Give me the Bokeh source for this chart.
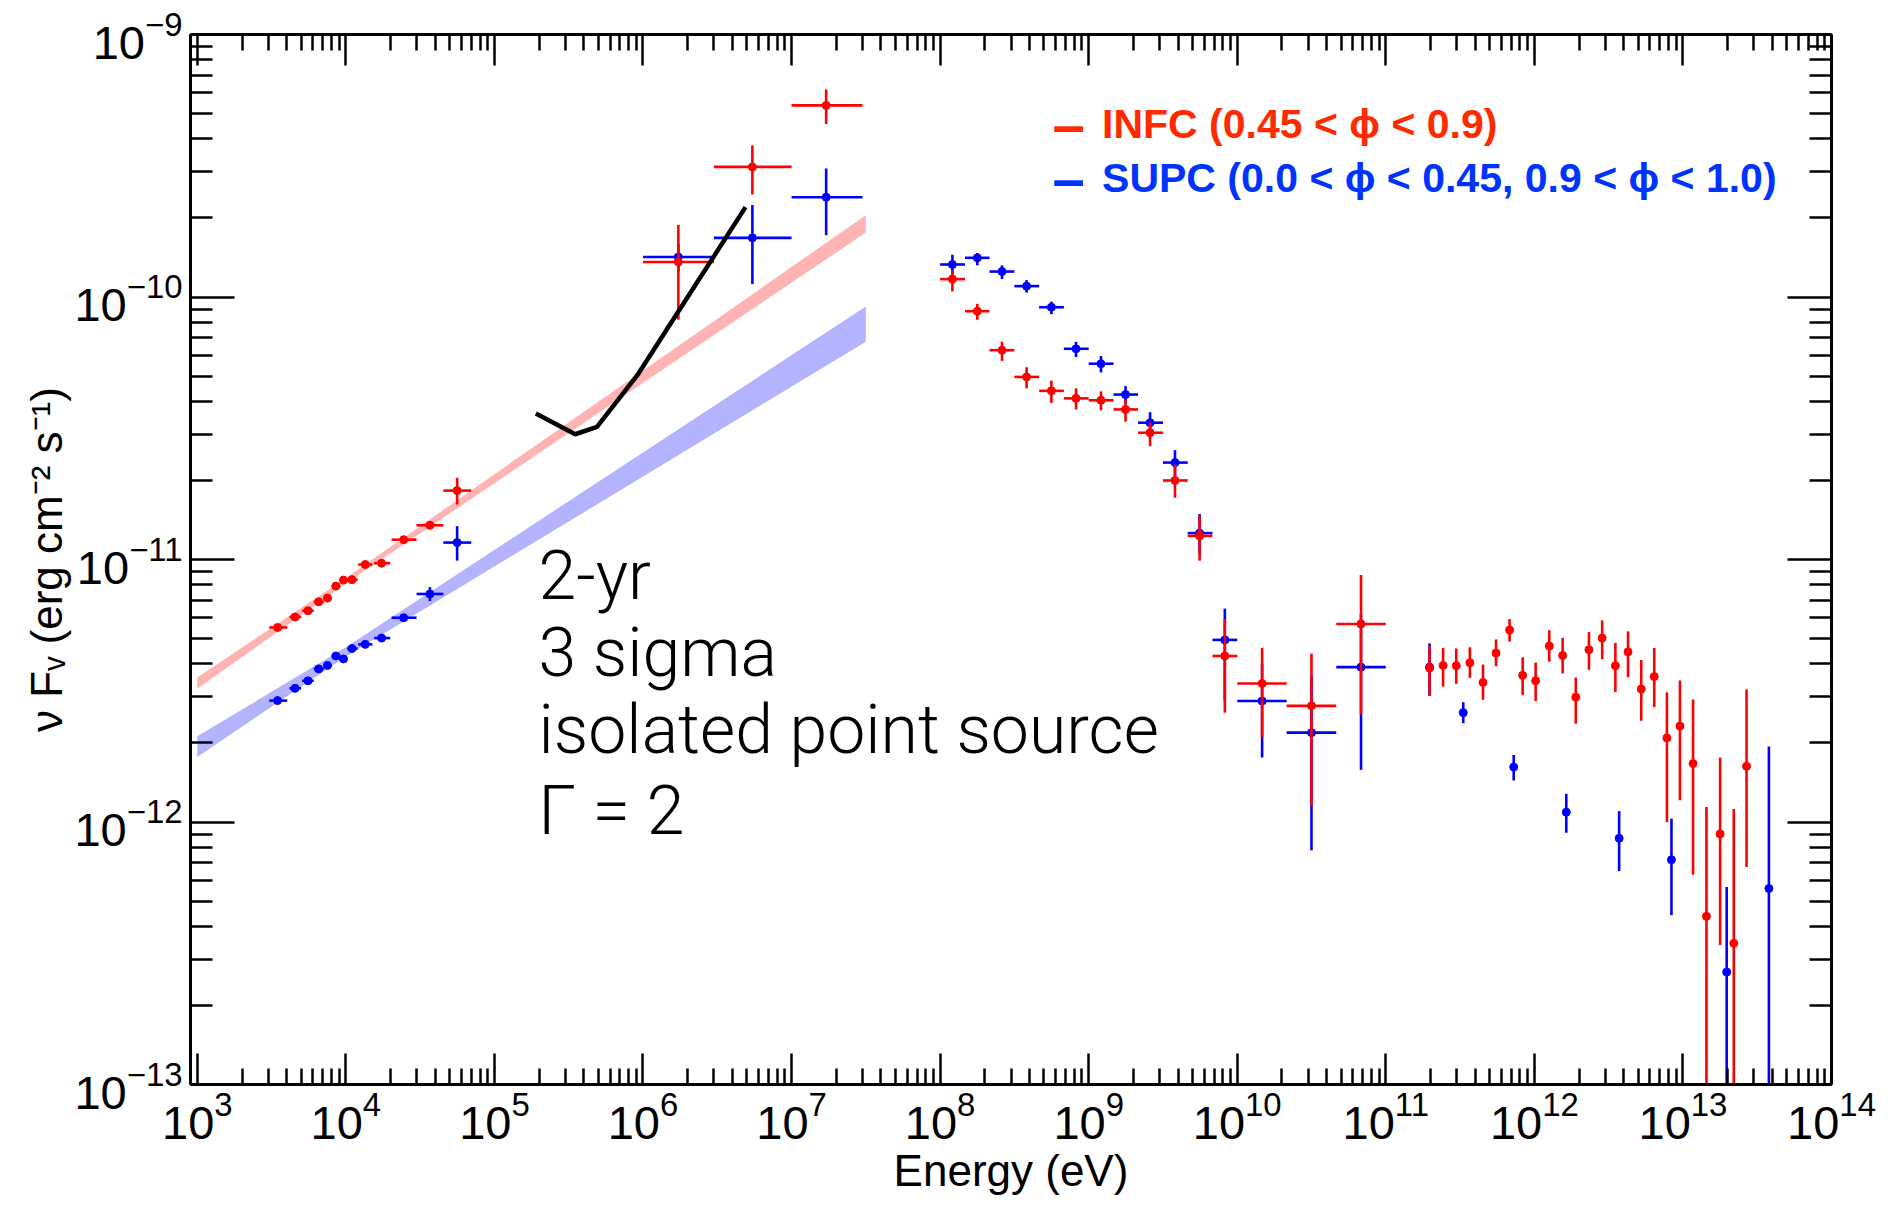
import numpy as np
from bokeh.plotting import figure
from bokeh.models import (ColumnDataSource, LogAxis, FixedTicker, LogTickFormatter, Range1d, Label,
                          CustomJSTickFormatter)
from bokeh.embed import file_html
from bokeh.resources import INLINE
from bokeh.core.properties import value

# ---------------- axes ----------------
X_RANGE = (900.0, 1e14)
Y_RANGE = (1e-13, 1e-9)
x_tick_values = [1e3, 1e4, 1e5, 1e6, 1e7, 1e8, 1e9, 1e10, 1e11, 1e12, 1e13, 1e14]
y_tick_values = [1e-13, 1e-12, 1e-11, 1e-10, 1e-9]
x_label = "Energy (eV)"
y_label = "ν Fᵥ (erg cm⁻² s⁻¹)"

# ---------------- X-ray points ----------------
xray_E = [3.47e3, 4.55e3, 5.56e3, 6.56e3, 7.52e3, 8.57e3, 9.64e3, 1.10e4, 1.35e4, 1.74e4, 2.45e4, 3.68e4, 5.61e4]
xray_E_lo = [3.05e3, 4.17e3, 5.08e3, 6.08e3, 7.10e3, 8.00e3, 9.20e3, 1.02e4, 1.21e4, 1.55e4, 2.03e4, 2.99e4, 4.53e4]
xray_E_hi = [4.03e3, 5.00e3, 6.08e3, 7.10e3, 8.00e3, 9.20e3, 1.02e4, 1.20e4, 1.51e4, 1.99e4, 2.99e4, 4.53e4, 6.98e4]
xray_red_F = [5.51e-12, 6.04e-12, 6.38e-12, 6.90e-12, 7.13e-12, 7.92e-12, 8.35e-12, 8.38e-12, 9.57e-12, 9.68e-12, 1.19e-11, 1.35e-11, 1.83e-11]
xray_red_lo = [5.38e-12, 5.90e-12, 6.24e-12, 6.74e-12, 6.97e-12, 7.74e-12, 8.15e-12, 8.18e-12, 9.33e-12, 9.44e-12, 1.16e-11, 1.31e-11, 1.62e-11]
xray_red_hi = [5.64e-12, 6.18e-12, 6.52e-12, 7.06e-12, 7.29e-12, 8.10e-12, 8.55e-12, 8.58e-12, 9.81e-12, 9.92e-12, 1.22e-11, 1.40e-11, 2.05e-11]
xray_blue_F = [2.90e-12, 3.23e-12, 3.45e-12, 3.83e-12, 3.95e-12, 4.29e-12, 4.18e-12, 4.58e-12, 4.75e-12, 5.02e-12, 6.00e-12, 7.39e-12, 1.16e-11]
xray_blue_lo = [2.83e-12, 3.15e-12, 3.37e-12, 3.74e-12, 3.86e-12, 4.19e-12, 4.08e-12, 4.47e-12, 4.63e-12, 4.89e-12, 5.82e-12, 6.95e-12, 9.90e-12]
xray_blue_hi = [2.97e-12, 3.31e-12, 3.53e-12, 3.92e-12, 4.04e-12, 4.39e-12, 4.28e-12, 4.69e-12, 4.87e-12, 5.15e-12, 6.18e-12, 7.85e-12, 1.34e-11]

# ---------------- MeV points ----------------
mev_E = [1.73e6, 5.45e6, 1.71e7]
mev_E_lo = [1.0e6, 3.0e6, 1.0e7]
mev_E_hi = [3.0e6, 1.0e7, 3.0e7]
mev_red_F = [1.36e-10, 3.13e-10, 5.37e-10]
mev_red_lo = [8.2e-11, 2.46e-10, 4.56e-10]
mev_red_hi = [1.88e-10, 3.78e-10, 6.17e-10]
mev_blue_F = [1.42e-10, 1.68e-10, 2.40e-10]
mev_blue_lo = [1.25e-10, 1.12e-10, 1.72e-10]
mev_blue_hi = [1.60e-10, 2.24e-10, 3.09e-10]

# ---------------- GeV points ----------------
gev_E = [1.21e8, 1.78e8, 2.61e8, 3.82e8, 5.61e8, 8.22e8, 1.21e9, 1.77e9, 2.59e9, 3.81e9, 5.58e9,
         8.25e9, 1.47e10, 3.16e10, 6.81e10]
gev_E_lo = [1.0e8, 1.47e8, 2.15e8, 3.16e8, 4.64e8, 6.81e8, 1.0e9, 1.47e9, 2.15e9, 3.16e9, 4.64e9,
            6.81e9, 1.0e10, 2.15e10, 4.64e10]
gev_E_hi = [1.47e8, 2.15e8, 3.16e8, 4.64e8, 6.81e8, 1.0e9, 1.47e9, 2.15e9, 3.16e9, 4.64e9, 6.81e9,
            1.0e10, 2.15e10, 4.64e10, 1.0e11]
gev_red_F = [1.17e-10, 8.83e-11, 6.27e-11, 4.96e-11, 4.39e-11, 4.11e-11, 4.04e-11, 3.73e-11, 3.04e-11, 2.00e-11, 1.23e-11,
             4.29e-12, 3.37e-12, 2.77e-12, 5.68e-12]
gev_red_lo = [1.05e-10, 8.19e-11, 5.71e-11, 4.49e-11, 3.95e-11, 3.73e-11, 3.70e-11, 3.35e-11, 2.70e-11, 1.72e-11, 9.9e-12,
              2.61e-12, 2.11e-12, 1.15e-12, 2.57e-12]
gev_red_hi = [1.26e-10, 9.42e-11, 6.76e-11, 5.40e-11, 4.80e-11, 4.49e-11, 4.37e-11, 4.06e-11, 3.33e-11, 2.30e-11, 1.47e-11,
              5.93e-12, 4.61e-12, 4.38e-12, 8.73e-12]
gev_blue_F = [1.33e-10, 1.41e-10, 1.25e-10, 1.10e-10, 9.14e-11, 6.35e-11, 5.57e-11, 4.25e-11, 3.32e-11, 2.34e-11, 1.26e-11,
              4.94e-12, 2.89e-12, 2.19e-12, 3.89e-12]
gev_blue_lo = [1.22e-10, 1.32e-10, 1.17e-10, 1.04e-10, 8.6e-11, 5.9e-11, 5.16e-11, 3.93e-11, 3.06e-11, 2.08e-11, 1.05e-11,
               2.9e-12, 1.76e-12, 7.8e-13, 1.58e-12]
gev_blue_hi = [1.45e-10, 1.47e-10, 1.32e-10, 1.16e-10, 9.6e-11, 6.75e-11, 5.96e-11, 4.58e-11, 3.64e-11, 2.61e-11, 1.49e-11,
               6.5e-12, 4.0e-12, 3.6e-12, 6.2e-12]

# ---------------- TeV points ----------------
tev_red_E = [1.97e11, 2.43e11, 2.98e11, 3.68e11, 4.51e11, 5.52e11, 6.81e11, 8.34e11, 1.02e12, 1.26e12, 1.55e12, 1.90e12,
             2.33e12, 2.86e12, 3.51e12, 4.27e12, 5.24e12, 6.41e12, 7.80e12, 9.55e12, 1.17e13, 1.44e13, 1.78e13, 2.20e13, 2.68e13]
tev_red_F = [3.86e-12, 3.95e-12, 3.94e-12, 4.04e-12, 3.40e-12, 4.40e-12, 5.39e-12, 3.62e-12, 3.45e-12, 4.68e-12, 4.31e-12, 2.99e-12,
             4.53e-12, 5.02e-12, 3.94e-12, 4.45e-12, 3.21e-12, 3.58e-12, 2.09e-12, 2.32e-12, 1.67e-12, 4.37e-13, 9.0e-13, 3.45e-13, 1.63e-12]
tev_red_lo = [3.02e-12, 3.28e-12, 3.36e-12, 3.54e-12, 2.92e-12, 3.92e-12, 4.87e-12, 3.04e-12, 2.89e-12, 4.08e-12, 3.68e-12, 2.37e-12,
              3.80e-12, 4.17e-12, 3.13e-12, 3.56e-12, 2.43e-12, 2.74e-12, 1.00e-12, 1.21e-12, 6.3e-13, 5.0e-14, 3.40e-13, 5.0e-14, 6.74e-13]
tev_red_hi = [4.67e-12, 4.60e-12, 4.58e-12, 4.63e-12, 3.98e-12, 4.96e-12, 5.93e-12, 4.24e-12, 4.05e-12, 5.38e-12, 5.03e-12, 3.55e-12,
              5.29e-12, 5.86e-12, 4.81e-12, 5.32e-12, 4.14e-12, 4.60e-12, 3.12e-12, 3.46e-12, 2.93e-12, 1.14e-12, 1.76e-12, 1.12e-12, 3.20e-12]
tev_blue_E = [1.97e11, 3.32e11, 7.26e11, 1.64e12, 3.72e12, 8.37e12, 1.97e13, 3.79e13]
tev_blue_F = [3.89e-12, 2.61e-12, 1.62e-12, 1.09e-12, 8.67e-13, 7.18e-13, 2.68e-13, 5.58e-13]
tev_blue_lo = [3.03e-12, 2.38e-12, 1.44e-12, 9.1e-13, 6.5e-13, 4.42e-13, 5.0e-14, 5.0e-14]
tev_blue_hi = [4.79e-12, 2.86e-12, 1.80e-12, 1.28e-12, 1.10e-12, 1.03e-12, 5.65e-13, 1.94e-12]

# ---------------- sensitivity curve ----------------
sens_E = [1.9e5, 3.5e5, 4.9e5, 9.3e5, 4.9e6]
sens_F = [3.6e-11, 3.0e-11, 3.2e-11, 5.1e-11, 2.2e-10]

# ---------------- model bands ----------------
band_E = [1e3, 1e4, 3.16e7]
band_red_lo = [3.22e-12, 8.1e-12, 1.76e-10]
band_red_hi = [3.55e-12, 8.5e-12, 2.05e-10]
band_blue_lo = [1.77e-12, 4.27e-12, 6.76e-11]
band_blue_hi = [2.12e-12, 4.63e-12, 9.2e-11]

# ---------------- texts ----------------
legend_texts = ["INFC (0.45 < ϕ < 0.9)", "SUPC (0.0 < ϕ < 0.45, 0.9 < ϕ < 1.0)"]
legend_colors = ["#ff2a00", "#0033ff"]
legend_dash_x = 5.7e8
legend_text_x = 1.23e9
legend_y = [4.56e-10, 2.83e-10]
note_texts = ["2-yr", "3 sigma", "isolated point source", "Γ = 2"]
note_x = 1.98e5
note_y = [8.65e-12, 4.40e-12, 2.24e-12, 1.10e-12]

RED = "#ff0000"
BLUE = "#0000ff"

p = figure(x_axis_type="log", y_axis_type="log",
           x_range=Range1d(*X_RANGE), y_range=Range1d(*Y_RANGE),
           width=1895, height=1211, output_backend="svg", toolbar_location=None,
           min_border_left=190, min_border_right=64, min_border_top=34, min_border_bottom=127,
           background_fill_color="white", border_fill_color="white")
p.grid.visible = False
p.outline_line_color = None

x_minor = [m * 10.0 ** e for e in range(2, 14) for m in range(2, 10)]
y_minor = [m * 10.0 ** e for e in range(-13, -9) for m in range(2, 10)]

TICK_FONT = "Liberation Sans"


def style_axis(ax, major_in, minor_in):
    ax.axis_line_width = 3
    ax.axis_line_color = "black"
    ax.major_tick_in = major_in
    ax.major_tick_out = 0
    ax.minor_tick_in = minor_in
    ax.minor_tick_out = 0
    ax.major_tick_line_width = 2.5
    ax.minor_tick_line_width = 2.5
    ax.major_tick_line_color = "black"
    ax.minor_tick_line_color = "black"
    ax.major_label_text_font = TICK_FONT
    ax.major_label_text_font_size = "47px"
    ax.major_label_text_color = "black"
    ax.axis_label_text_font = TICK_FONT
    ax.axis_label_text_font_style = "normal"
    ax.axis_label_text_font_size = "44px"
    ax.axis_label_text_color = "black"


xt = FixedTicker(ticks=x_tick_values, minor_ticks=x_minor)
yt = FixedTicker(ticks=y_tick_values, minor_ticks=y_minor)

p.xaxis.ticker = xt
p.yaxis.ticker = yt
p.xaxis.formatter = LogTickFormatter()
p.yaxis.formatter = LogTickFormatter()
style_axis(p.xaxis[0], 31, 16)
style_axis(p.yaxis[0], 44, 22)
p.xaxis.axis_label = x_label
p.yaxis.axis_label = y_label
p.xaxis.major_label_standoff = 6
p.yaxis.major_label_standoff = 8
p.xaxis.axis_label_standoff = 4
p.yaxis.axis_label_standoff = 0

blank = CustomJSTickFormatter(code="return ' '")
top = LogAxis(ticker=xt, formatter=blank)
style_axis(top, 31, 16)
top.major_label_text_font_size = "4px"
right = LogAxis(ticker=yt, formatter=blank)
style_axis(right, 44, 22)
right.major_label_text_font_size = "4px"
p.add_layout(top, "above")
p.add_layout(right, "right")

# bands
p.varea(x=band_E, y1=band_red_lo, y2=band_red_hi, fill_color="#ffb3b3")
p.varea(x=band_E, y1=band_blue_lo, y2=band_blue_hi, fill_color="#b3b3ff")


def draw_points(E, F, lo, hi, color, E_lo=None, E_hi=None):
    data = dict(E=E, F=F, lo=lo, hi=hi)
    if E_lo is not None:
        data["E_lo"] = E_lo
        data["E_hi"] = E_hi
    src = ColumnDataSource(data)
    p.segment(x0="E", y0="lo", x1="E", y1="hi", source=src, line_color=color, line_width=2.6)
    if E_lo is not None:
        p.segment(x0="E_lo", y0="F", x1="E_hi", y1="F", source=src, line_color=color, line_width=2.6)
    p.scatter(x="E", y="F", source=src, size=8, fill_color=color, line_color=color)


# blue first, then red
draw_points(xray_E, xray_blue_F, xray_blue_lo, xray_blue_hi, BLUE, xray_E_lo, xray_E_hi)
draw_points(mev_E, mev_blue_F, mev_blue_lo, mev_blue_hi, BLUE, mev_E_lo, mev_E_hi)
draw_points(gev_E, gev_blue_F, gev_blue_lo, gev_blue_hi, BLUE, gev_E_lo, gev_E_hi)
draw_points(tev_blue_E, tev_blue_F, tev_blue_lo, tev_blue_hi, BLUE)

draw_points(xray_E, xray_red_F, xray_red_lo, xray_red_hi, RED, xray_E_lo, xray_E_hi)
draw_points(mev_E, mev_red_F, mev_red_lo, mev_red_hi, RED, mev_E_lo, mev_E_hi)
draw_points(gev_E, gev_red_F, gev_red_lo, gev_red_hi, RED, gev_E_lo, gev_E_hi)
draw_points(tev_red_E, tev_red_F, tev_red_lo, tev_red_hi, RED)

# sensitivity curve
p.line(x=sens_E, y=sens_F, line_color="black", line_width=4.5)

# legend texts
for txt, col, yy in zip(legend_texts, legend_colors, legend_y):
    p.add_layout(Label(x=legend_dash_x, y=yy, text="–", text_color=col, text_font="Liberation Sans",
                       text_font_style="bold", text_font_size="58px", text_baseline="alphabetic"))
    p.add_layout(Label(x=legend_text_x, y=yy, text=txt, text_color=col, text_font="Liberation Sans",
                       text_font_style="bold", text_font_size="41px", text_baseline="alphabetic"))

for txt, yy in zip(note_texts, note_y):
    p.add_layout(Label(x=note_x, y=yy, text=txt, text_color="black", text_font="Roboto Light",
                       text_font_size="68px", text_baseline="alphabetic"))

open("out.html", "w").write(file_html(p, INLINE))
